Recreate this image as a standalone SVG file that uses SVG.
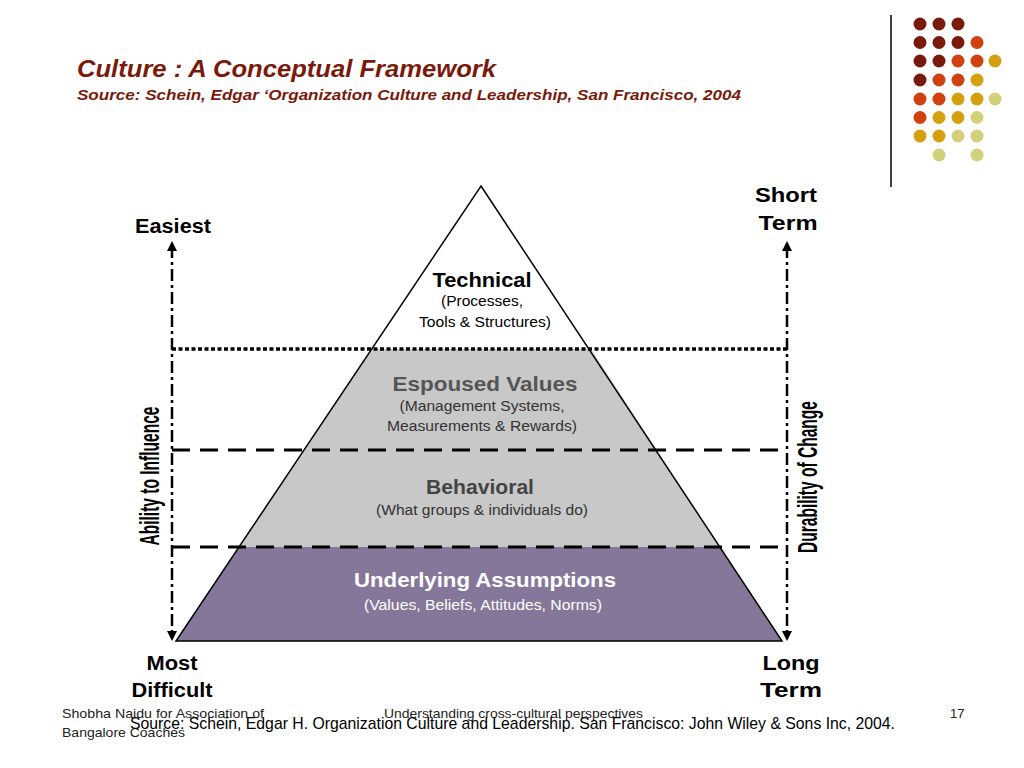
<svg xmlns="http://www.w3.org/2000/svg" width="1024" height="768" viewBox="0 0 1024 768">
<style>
.title{font-family:"Liberation Sans",Arial,sans-serif;font-weight:bold;font-style:italic;fill:#7a1a0c}
.lbl{font-family:"Liberation Sans",Arial,sans-serif;font-weight:bold;fill:#000;text-anchor:middle}
.sub{font-family:"Liberation Sans",Arial,sans-serif;text-anchor:middle;font-size:14px}
.foot{font-family:"Liberation Sans",Arial,sans-serif;font-size:13px;fill:#222}
.axis{stroke:#000;stroke-width:2.5;fill:none;stroke-dasharray:12 4 3 4}
.dot1{fill:#7a1a0c}.dot2{fill:#d1400f}.dot3{fill:#d4a00f}.dot4{fill:#d3d07c}
</style>
<defs>
<marker id="ah" viewBox="0 0 10 10" refX="5" refY="5" markerWidth="4" markerHeight="4" orient="auto-start-reverse">
<path d="M0,0 L10,5 L0,10 z" fill="#000"/>
</marker>
</defs>
<rect width="1024" height="768" fill="#fff"/>

<g id="title">
<text class="title" x="77" y="77" font-size="24" textLength="419" lengthAdjust="spacingAndGlyphs">Culture : A Conceptual Framework</text>
<text class="title" x="77" y="100" font-size="15" textLength="664" lengthAdjust="spacingAndGlyphs">Source: Schein, Edgar ‘Organization Culture and Leadership, San Francisco, 2004</text>
</g>

<g id="decor">
<line x1="891" y1="15" x2="891" y2="187" stroke="#000" stroke-width="1.5"/>
<circle class="dot1" cx="920" cy="24" r="6.5"/><circle class="dot1" cx="939" cy="24" r="6.5"/><circle class="dot1" cx="958" cy="24" r="6.5"/>
<circle class="dot1" cx="920" cy="42.5" r="6.5"/><circle class="dot1" cx="939" cy="42.5" r="6.5"/><circle class="dot1" cx="958" cy="42.5" r="6.5"/><circle class="dot2" cx="977" cy="42.5" r="6.5"/>
<circle class="dot1" cx="920" cy="61" r="6.5"/><circle class="dot1" cx="939" cy="61" r="6.5"/><circle class="dot2" cx="958" cy="61" r="6.5"/><circle class="dot2" cx="977" cy="61" r="6.5"/><circle class="dot3" cx="995" cy="61" r="6.5"/>
<circle class="dot1" cx="920" cy="80" r="6.5"/><circle class="dot2" cx="939" cy="80" r="6.5"/><circle class="dot2" cx="958" cy="80" r="6.5"/><circle class="dot3" cx="977" cy="80" r="6.5"/>
<circle class="dot2" cx="920" cy="99" r="6.5"/><circle class="dot2" cx="939" cy="99" r="6.5"/><circle class="dot3" cx="958" cy="99" r="6.5"/><circle class="dot3" cx="977" cy="99" r="6.5"/><circle class="dot4" cx="995" cy="99" r="6.5"/>
<circle class="dot2" cx="920" cy="117.5" r="6.5"/><circle class="dot3" cx="939" cy="117.5" r="6.5"/><circle class="dot3" cx="958" cy="117.5" r="6.5"/><circle class="dot4" cx="977" cy="117.5" r="6.5"/>
<circle class="dot3" cx="920" cy="136" r="6.5"/><circle class="dot3" cx="939" cy="136" r="6.5"/><circle class="dot4" cx="958" cy="136" r="6.5"/><circle class="dot4" cx="977" cy="136" r="6.5"/>
<circle class="dot4" cx="939" cy="155" r="6.5"/><circle class="dot4" cx="977" cy="155" r="6.5"/>
</g>

<g id="pyramid">
<polygon points="481,186 371.7,349 591,349" fill="#fff"/>
<polygon points="371.7,349 591,349 720,547 239,547" fill="#c8c8c8"/>
<polygon points="239,547 720,547 782,641 176,641" fill="#857799"/>
<polygon points="481,186 782,641 176,641" fill="none" stroke="#000" stroke-width="1.5" stroke-linejoin="miter"/>
</g>

<g id="connectors">
<line x1="172" y1="349" x2="787" y2="349" stroke="#000" stroke-width="3.5" stroke-dasharray="4 2.5"/>
<line x1="172" y1="450" x2="787" y2="450" stroke="#000" stroke-width="3" stroke-dasharray="18 10"/>
<line x1="172" y1="547" x2="787" y2="547" stroke="#000" stroke-width="3" stroke-dasharray="18 10"/>
<line class="axis" x1="172" y1="246" x2="172" y2="636" marker-start="url(#ah)" marker-end="url(#ah)"/>
<line class="axis" x1="787" y1="246" x2="787" y2="636" marker-start="url(#ah)" marker-end="url(#ah)"/>
</g>

<g id="axis-labels">
<text class="lbl" x="173" y="233" font-size="20" textLength="76" lengthAdjust="spacingAndGlyphs">Easiest</text>
<text class="lbl" x="786" y="202" font-size="20" textLength="62" lengthAdjust="spacingAndGlyphs">Short</text>
<text class="lbl" x="788" y="230" font-size="20" textLength="59" lengthAdjust="spacingAndGlyphs">Term</text>
<text class="lbl" x="172" y="670" font-size="20" textLength="51" lengthAdjust="spacingAndGlyphs">Most</text>
<text class="lbl" x="172" y="697" font-size="20" textLength="81" lengthAdjust="spacingAndGlyphs">Difficult</text>
<text class="lbl" x="791" y="670" font-size="20" textLength="57" lengthAdjust="spacingAndGlyphs">Long</text>
<text class="lbl" x="791" y="697" font-size="20" textLength="62" lengthAdjust="spacingAndGlyphs">Term</text>
<text class="lbl" transform="translate(159,476) rotate(-90)" font-size="27" textLength="139" lengthAdjust="spacingAndGlyphs">Ability to Influence</text>
<text class="lbl" transform="translate(817,477) rotate(-90)" font-size="27" textLength="152" lengthAdjust="spacingAndGlyphs">Durability of Change</text>
</g>

<g id="layer-technical">
<text class="lbl" x="482" y="287" font-size="21" textLength="99" lengthAdjust="spacingAndGlyphs">Technical</text>
<text class="sub" x="482" y="306" textLength="82" lengthAdjust="spacingAndGlyphs">(Processes,</text>
<text class="sub" x="485" y="327" textLength="132" lengthAdjust="spacingAndGlyphs">Tools &amp; Structures)</text>
</g>
<g id="layer-espoused">
<text class="lbl" x="485" y="391" font-size="21" style="fill:#555" textLength="185" lengthAdjust="spacingAndGlyphs">Espoused Values</text>
<text class="sub" x="482" y="411" fill="#333" textLength="165" lengthAdjust="spacingAndGlyphs">(Management Systems,</text>
<text class="sub" x="482" y="431" fill="#333" textLength="190" lengthAdjust="spacingAndGlyphs">Measurements &amp; Rewards)</text>
</g>
<g id="layer-behavioral">
<text class="lbl" x="480" y="494" font-size="21" style="fill:#444" textLength="108" lengthAdjust="spacingAndGlyphs">Behavioral</text>
<text class="sub" x="482" y="515" fill="#333" textLength="212" lengthAdjust="spacingAndGlyphs">(What groups &amp; individuals do)</text>
</g>
<g id="layer-underlying">
<text class="lbl" x="485" y="587" font-size="21" style="fill:#fff" textLength="262" lengthAdjust="spacingAndGlyphs">Underlying Assumptions</text>
<text class="sub" x="483" y="610" fill="#fff" textLength="238" lengthAdjust="spacingAndGlyphs">(Values, Beliefs, Attitudes, Norms)</text>
</g>

<g id="footer">
<text class="foot" x="62" y="718" textLength="202" lengthAdjust="spacingAndGlyphs">Shobha Naidu for Association of</text>
<text class="foot" x="62" y="737" textLength="123" lengthAdjust="spacingAndGlyphs">Bangalore Coaches</text>
<text class="foot" x="384" y="718" textLength="259" lengthAdjust="spacingAndGlyphs">Understanding cross-cultural perspectives</text>
<text class="foot" x="950" y="718">17</text>
<text x="130" y="729" font-family="Liberation Sans, Arial, sans-serif" font-size="17" fill="#000" textLength="765" lengthAdjust="spacingAndGlyphs">Source: Schein, Edgar H. Organization Culture and Leadership. San Francisco: John Wiley &amp; Sons Inc, 2004.</text>
</g>
</svg>
